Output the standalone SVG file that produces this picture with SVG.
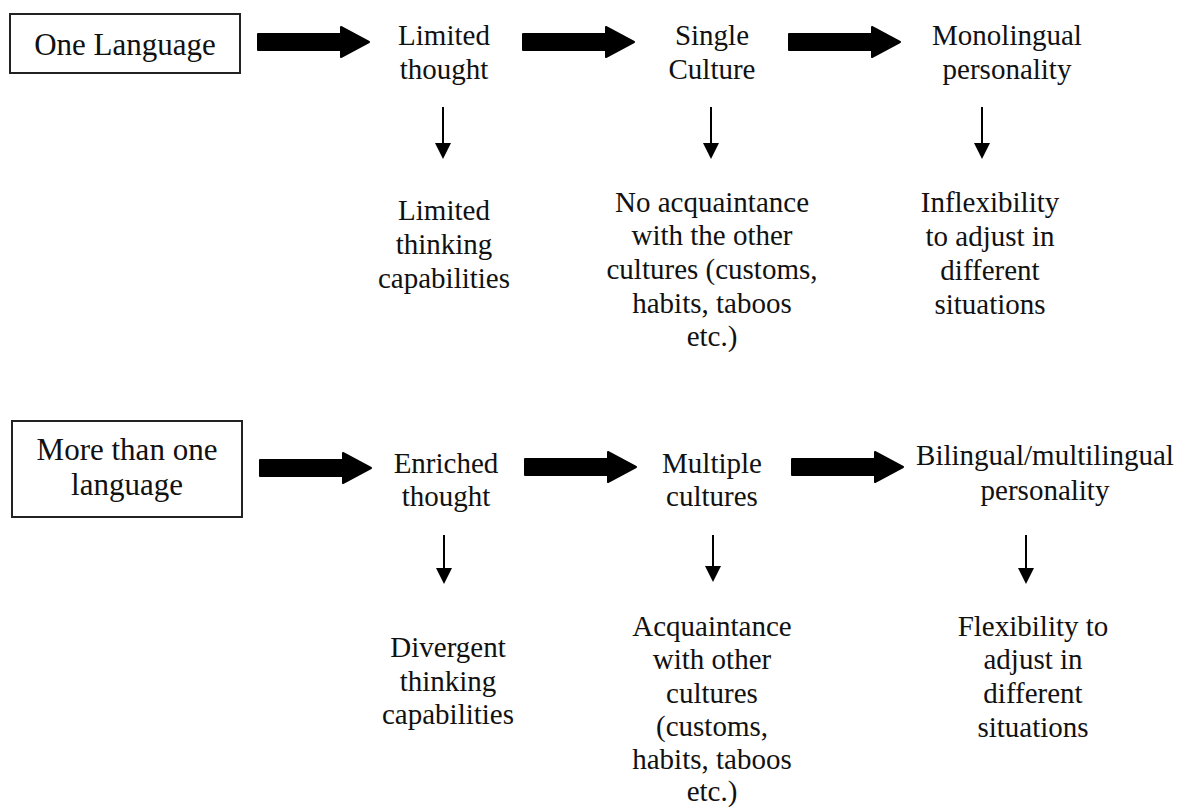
<svg xmlns="http://www.w3.org/2000/svg" width="1179" height="808" viewBox="0 0 1179 808">
<style>
text{font-family:"Liberation Serif","Times New Roman",serif;font-size:29px;fill:#111;text-anchor:middle}
.bt{font-size:31px}
.box{fill:#fff;stroke:#222;stroke-width:2}
.big{fill:#000;stroke:#000;stroke-width:2;stroke-linejoin:round}
.thin{stroke:#000;stroke-width:2;fill:none}
</style>
<defs>
<marker id="ah" markerWidth="8" markerHeight="8" refX="7" refY="4" orient="auto" markerUnits="strokeWidth">
<path d="M0,0 L8,4 L0,8 Z" fill="#000"/>
</marker>
<path id="bigArrow" d="M0,-8 L83,-8 L83,-15 L111,0 L83,15 L83,8 L0,8 Z"/>
</defs>
<rect width="1179" height="808" fill="#fff"/>

<g id="connectors">
<use href="#bigArrow" class="big" transform="translate(258,42)"/>
<use href="#bigArrow" class="big" transform="translate(523,42)"/>
<use href="#bigArrow" class="big" transform="translate(789,42)"/>
<use href="#bigArrow" class="big" transform="translate(260,468)"/>
<use href="#bigArrow" class="big" transform="translate(525,467)"/>
<use href="#bigArrow" class="big" transform="translate(792,467)"/>
<line class="thin" x1="443" y1="107" x2="443" y2="157" marker-end="url(#ah)"/>
<line class="thin" x1="711" y1="107" x2="711" y2="157" marker-end="url(#ah)"/>
<line class="thin" x1="982" y1="107" x2="982" y2="157" marker-end="url(#ah)"/>
<line class="thin" x1="444" y1="535" x2="444" y2="582" marker-end="url(#ah)"/>
<line class="thin" x1="713" y1="535" x2="713" y2="580" marker-end="url(#ah)"/>
<line class="thin" x1="1026" y1="535" x2="1026" y2="582" marker-end="url(#ah)"/>
</g>

<g id="one-language">
<rect class="box" x="10" y="14" width="230" height="59"/>
<text class="bt" x="125" y="55">One Language</text>
</g>
<g id="limited-thought">
<text x="444" y="45">Limited</text>
<text x="444" y="79">thought</text>
</g>
<g id="single-culture">
<text x="712" y="45">Single</text>
<text x="712" y="79">Culture</text>
</g>
<g id="monolingual-personality">
<text x="1007" y="45">Monolingual</text>
<text x="1007" y="79">personality</text>
</g>
<g id="limited-thinking">
<text x="444" y="220">Limited</text>
<text x="444" y="254">thinking</text>
<text x="444" y="288">capabilities</text>
</g>
<g id="no-acquaintance">
<text x="712" y="212">No acquaintance</text>
<text x="712" y="245">with the other</text>
<text x="712" y="279">cultures (customs,</text>
<text x="712" y="313">habits, taboos</text>
<text x="712" y="346">etc.)</text>
</g>
<g id="inflexibility">
<text x="990" y="212">Inflexibility</text>
<text x="990" y="246">to adjust in</text>
<text x="990" y="280">different</text>
<text x="990" y="314">situations</text>
</g>

<g id="more-than-one">
<rect class="box" x="12" y="421" width="230" height="96"/>
<text class="bt" x="127" y="460">More than one</text>
<text class="bt" x="127" y="495">language</text>
</g>
<g id="enriched-thought">
<text x="446" y="473">Enriched</text>
<text x="446" y="506">thought</text>
</g>
<g id="multiple-cultures">
<text x="712" y="473">Multiple</text>
<text x="712" y="506">cultures</text>
</g>
<g id="bilingual-personality">
<text x="1045" y="465">Bilingual/multilingual</text>
<text x="1045" y="500">personality</text>
</g>
<g id="divergent-thinking">
<text x="448" y="657">Divergent</text>
<text x="448" y="691">thinking</text>
<text x="448" y="724">capabilities</text>
</g>
<g id="acquaintance">
<text x="712" y="636">Acquaintance</text>
<text x="712" y="669">with other</text>
<text x="712" y="703">cultures</text>
<text x="712" y="736">(customs,</text>
<text x="712" y="769">habits, taboos</text>
<text x="712" y="801">etc.)</text>
</g>
<g id="flexibility">
<text x="1033" y="636">Flexibility to</text>
<text x="1033" y="669">adjust in</text>
<text x="1033" y="703">different</text>
<text x="1033" y="737">situations</text>
</g>
</svg>
